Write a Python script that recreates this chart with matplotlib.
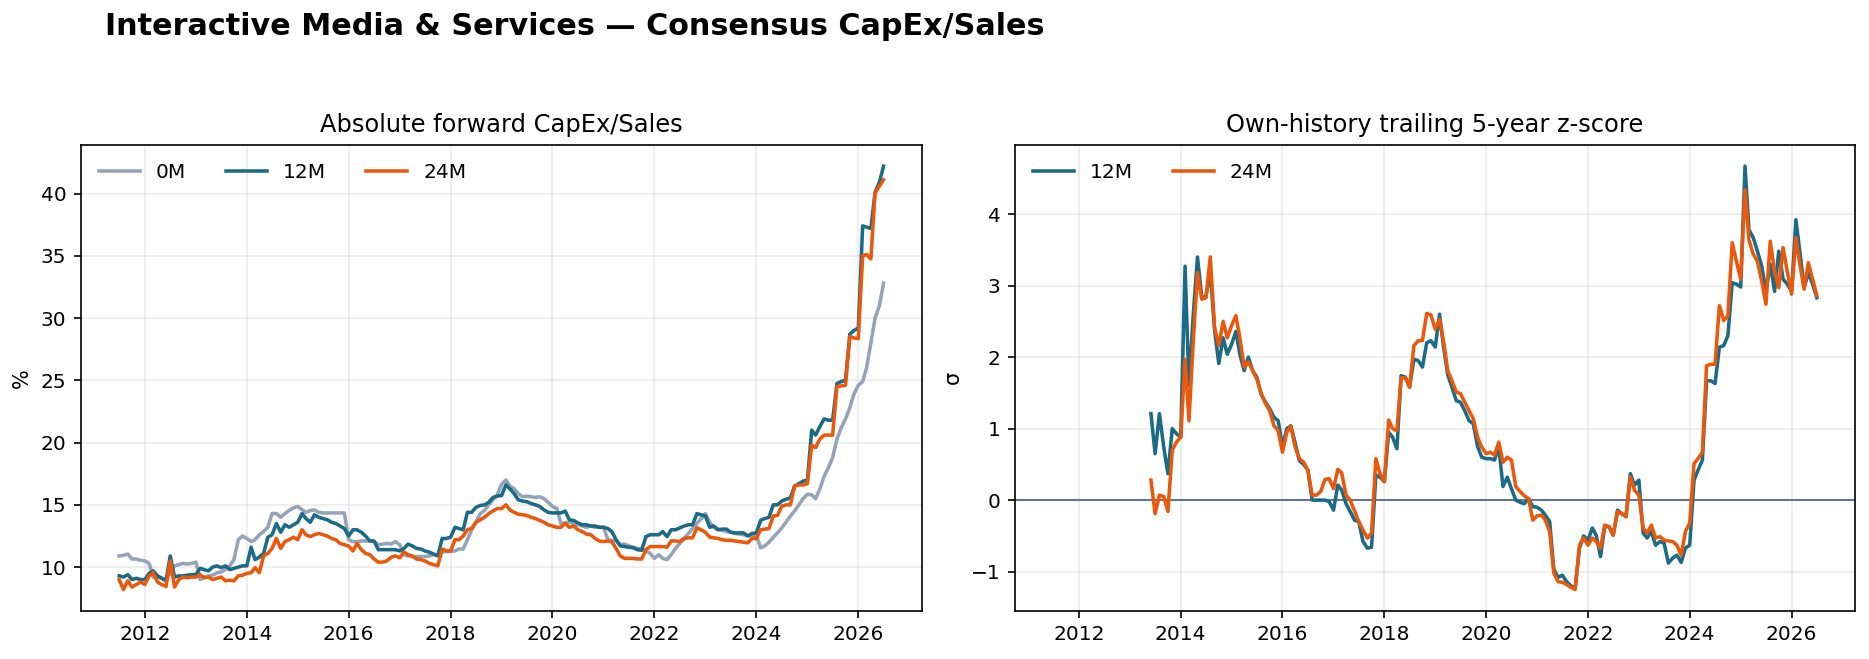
import matplotlib
matplotlib.use("Agg")
import matplotlib.pyplot as plt
import matplotlib.dates as mdates
import numpy as np
import pandas as pd

# monthly observations, Jul 2011 .. Jul 2026
dates = pd.date_range("2011-07-01", "2026-07-01", freq="MS")

# forward CapEx/Sales, %
capex_0m = [
    10.9, 10.95, 11.05, 10.65, 10.65, 10.55, 10.5, 10.3, 9.2, 9.2,
    9.1, 9.0, 9.5, 10.1, 10.2, 10.3, 10.25, 10.3, 10.4, 9.0,
    9.15, 9.3, 9.35, 9.55, 9.6, 9.8, 10.1, 10.6, 12.2, 12.5,
    12.3, 12.05, 12.2, 12.6, 12.85, 13.2, 14.3, 14.3, 14.0, 14.3,
    14.55, 14.76, 14.87, 14.6, 14.4, 14.55, 14.6, 14.4, 14.35, 14.35,
    14.35, 14.35, 14.35, 14.35, 12.2, 12.05, 12.05, 12.1, 12.1, 12.1,
    12.05, 11.8, 11.85, 11.9, 11.85, 12.05, 11.8, 11.0, 10.9, 10.85,
    10.85, 10.85, 10.85, 10.9, 11.0, 11.0, 11.2, 11.26, 11.26, 11.3,
    11.45, 11.45, 12.2, 13.0, 13.6, 14.3, 14.55, 15.0, 15.4, 15.8,
    16.65, 17.0, 16.5, 16.3, 15.9, 15.65, 15.7, 15.65, 15.6, 15.65,
    15.5, 15.2, 14.87, 14.7, 13.5, 13.55, 13.6, 13.5, 13.4, 13.3,
    13.2, 13.3, 13.2, 13.2, 13.2, 12.2, 12.15, 12.1, 11.8, 11.85,
    11.7, 11.6, 11.5, 11.45, 11.3, 11.1, 10.7, 11.0, 10.7, 10.6,
    11.0, 11.5, 11.9, 12.3, 12.7, 13.1, 13.5, 13.9, 14.3, 13.6,
    13.2, 13.05, 12.95, 12.85, 12.8, 12.7, 12.65, 12.6, 12.55, 12.5,
    12.55, 11.55, 11.7, 12.0, 12.4, 12.75, 13.15, 13.6, 14.1, 14.5,
    15.0, 15.5, 15.85, 15.8, 15.5, 16.3, 17.3, 18.0, 18.8, 20.3,
    21.2, 21.9, 22.8, 23.9, 24.6, 24.9, 26.0, 28.0, 30.0, 31.0, 32.8,
]
capex_12m = [
    9.3, 9.2, 9.4, 9.0, 9.1, 9.0, 9.0, 9.5, 9.7, 9.3,
    9.1, 8.9, 10.9, 9.2, 9.3, 9.3, 9.35, 9.4, 9.4, 9.9,
    9.8, 9.7, 10.0, 10.1, 9.95, 10.1, 9.8, 9.9, 10.0, 10.1,
    10.1, 11.6, 10.6, 10.8, 11.1, 12.4, 12.6, 13.5, 12.8, 13.4,
    13.2, 13.4, 13.6, 14.3, 13.9, 13.6, 14.2, 14.0, 13.9, 13.8,
    13.6, 13.5, 13.3, 13.1, 12.5, 13.0, 13.0, 12.8, 12.5, 12.1,
    12.1, 11.4, 11.4, 11.4, 11.4, 11.4, 11.3, 11.5, 11.85, 11.7,
    11.5, 11.45, 11.3, 11.2, 11.05, 10.9, 12.3, 12.3, 12.4, 13.2,
    13.1, 13.0, 14.4, 14.4, 14.8, 14.95, 15.0, 15.2, 15.6, 15.7,
    15.75, 16.6, 16.3, 15.9, 15.4, 15.3, 15.25, 15.1, 15.0, 14.87,
    14.6, 14.4, 14.35, 14.35, 14.35, 14.5, 13.8, 13.75, 13.55, 13.4,
    13.4, 13.3, 13.3, 13.2, 13.2, 13.1, 12.85, 12.2, 11.7, 11.65,
    11.6, 11.55, 11.4, 11.35, 12.45, 12.6, 12.6, 12.6, 12.85, 12.45,
    13.0, 13.0, 13.15, 13.3, 13.4, 13.4, 14.3, 14.2, 14.1, 13.2,
    13.3, 13.0, 13.05, 13.05, 12.8, 12.75, 12.75, 12.75, 12.5, 12.7,
    12.75, 13.76, 13.9, 14.0, 15.0, 15.0, 15.3, 15.45, 15.55, 16.5,
    16.7, 16.9, 17.0, 21.0, 20.6, 21.3, 21.9, 21.8, 21.8, 24.75,
    24.9, 25.0, 28.7, 29.0, 29.2, 37.4, 37.3, 37.2, 40.1, 40.9, 42.2,
]
capex_24m = [
    9.0, 8.2, 8.9, 8.4, 8.6, 8.8, 8.6, 9.3, 9.55, 8.8,
    8.6, 8.45, 10.5, 8.4, 9.0, 9.2, 9.15, 9.2, 9.2, 9.4,
    9.15, 9.2, 9.0, 9.1, 9.2, 8.9, 8.95, 8.9, 9.3, 9.35,
    9.5, 9.55, 9.95, 9.55, 10.9, 11.1, 11.5, 12.3, 11.5, 12.05,
    12.2, 12.4, 12.2, 13.0, 12.6, 12.45, 12.6, 12.7, 12.6, 12.5,
    12.3, 12.2, 11.9, 11.8, 11.7, 11.3, 11.9, 11.4, 11.1, 11.0,
    10.65, 10.4, 10.4, 10.5, 10.8, 10.9, 10.75, 11.2, 11.0, 10.9,
    10.65, 10.6, 10.5, 10.3, 10.2, 10.1, 11.45, 11.3, 11.3, 12.2,
    12.2, 12.5, 13.0, 13.1, 13.6, 13.8, 14.0, 14.3, 14.5, 14.7,
    14.7, 15.0, 14.6, 14.4, 14.25, 14.2, 14.15, 14.0, 13.9, 13.75,
    13.6, 13.4, 13.3, 13.2, 13.2, 13.5, 13.2, 13.3, 13.0, 12.85,
    12.65, 12.6, 12.3, 12.1, 12.05, 12.1, 12.05, 11.5, 10.9, 10.7,
    10.7, 10.7, 10.65, 10.65, 11.4, 11.65, 11.65, 11.65, 11.65, 11.6,
    12.1, 12.1, 12.05, 12.3, 12.35, 12.35, 13.15, 13.0, 12.8, 12.4,
    12.35, 12.3, 12.2, 12.15, 12.15, 12.1, 12.05, 12.0, 11.95, 12.3,
    12.3, 13.0, 13.05, 13.1, 14.1, 14.15, 14.9, 15.0, 15.0, 16.5,
    16.6, 16.6, 16.7, 19.8, 19.6, 20.3, 20.6, 20.6, 20.6, 24.5,
    24.55, 24.6, 28.5, 28.4, 28.35, 35.0, 35.1, 34.75, 40.0, 40.6, 41.1,
]

# trailing 5-year z-score, first value Jun 2013
z_start = 23
z_12m = [
    1.21, 0.65, 1.21, 0.74, 0.37, 1.0, 0.93,
    0.88, 3.27, 1.6, 2.6, 3.4, 2.83, 2.85, 3.2, 2.37, 1.91,
    2.27, 2.04, 2.18, 2.36, 2.04, 1.81, 2.0, 1.81, 1.72, 1.48,
    1.37, 1.28, 1.16, 1.11, 0.75, 1.0, 1.04, 0.8, 0.55, 0.5,
    0.42, 0.0, 0.0, 0.0, 0.0, -0.02, -0.14, 0.21, 0.14, -0.05,
    -0.16, -0.28, -0.3, -0.58, -0.67, -0.66, 0.35, 0.32, 0.26, 0.95,
    0.88, 0.72, 1.74, 1.72, 1.58, 1.97, 1.95, 1.86, 2.2, 2.23,
    2.14, 2.6, 2.15, 1.75, 1.58, 1.39, 1.37, 1.25, 1.11, 1.07,
    0.75, 0.6, 0.58, 0.58, 0.56, 0.75, 0.19, 0.32, 0.16, 0.0,
    -0.03, -0.05, 0.02, -0.09, -0.1, -0.14, -0.21, -0.3, -0.97, -1.08,
    -1.05, -1.14, -1.2, -1.23, -0.67, -0.5, -0.56, -0.39, -0.49, -0.79,
    -0.37, -0.37, -0.49, -0.14, -0.19, -0.23, 0.37, 0.21, 0.28, -0.46,
    -0.53, -0.44, -0.63, -0.58, -0.6, -0.88, -0.81, -0.77, -0.87, -0.67,
    -0.63, 0.28, 0.42, 0.56, 1.67, 1.67, 1.63, 2.14, 2.16, 2.3,
    3.04, 3.02, 2.98, 4.67, 3.78, 3.67, 3.48, 3.27, 2.92, 3.3,
    2.92, 3.48, 3.09, 3.02, 2.92, 3.92, 3.48, 2.97, 3.18, 3.02, 2.83,
]
z_24m = [
    0.28, -0.19, 0.07, 0.05, -0.16, 0.7, 0.81,
    0.88, 1.97, 1.11, 2.23, 3.18, 2.81, 2.83, 3.4, 2.41, 2.16,
    2.5, 2.27, 2.44, 2.58, 2.27, 1.86, 1.93, 1.81, 1.69, 1.49,
    1.35, 1.25, 1.04, 0.97, 0.67, 0.95, 1.03, 0.74, 0.58, 0.53,
    0.42, 0.07, 0.07, 0.12, 0.29, 0.3, 0.16, 0.43, 0.38, 0.07,
    0.0, -0.15, -0.3, -0.42, -0.53, -0.46, 0.58, 0.37, 0.26, 1.12,
    1.0, 0.97, 1.71, 1.71, 1.58, 2.16, 2.23, 2.23, 2.61, 2.59,
    2.39, 2.53, 2.23, 1.81, 1.67, 1.51, 1.49, 1.37, 1.25, 1.14,
    0.88, 0.74, 0.65, 0.67, 0.63, 0.81, 0.53, 0.6, 0.56, 0.19,
    0.12, 0.06, 0.02, -0.28, -0.22, -0.21, -0.28, -0.44, -1.02, -1.14,
    -1.15, -1.18, -1.22, -1.25, -0.63, -0.53, -0.63, -0.53, -0.58, -0.67,
    -0.35, -0.37, -0.49, -0.16, -0.19, -0.23, 0.32, 0.14, 0.07, -0.39,
    -0.46, -0.35, -0.53, -0.51, -0.56, -0.57, -0.58, -0.63, -0.77, -0.44,
    -0.32, 0.51, 0.58, 0.67, 1.88, 1.9, 1.9, 2.72, 2.51, 2.58,
    3.6, 3.34, 3.09, 4.34, 3.64, 3.44, 3.34, 3.06, 2.74, 3.62,
    3.2, 2.97, 3.53, 3.2, 2.88, 3.67, 3.3, 2.95, 3.32, 3.09, 2.86,
]

c0 = "#94a3b8"
c12 = "#1b6a86"
c24 = "#ea580c"

fig = plt.figure(figsize=(1869 / 150, 659 / 150), dpi=150)
ax1 = fig.add_axes([0.0433, 0.0733, 0.4499, 0.7067])
ax2 = fig.add_axes([0.5431, 0.0733, 0.4494, 0.7067], sharex=ax1)

ax1.plot(dates, capex_0m, color=c0, lw=1.7, label="0M")
ax1.plot(dates, capex_12m, color=c12, lw=1.7, label="12M")
ax1.plot(dates, capex_24m, color=c24, lw=1.7, label="24M")
ax1.set_title("Absolute forward CapEx/Sales", fontsize=11.6)
ax1.set_ylabel("%")
ax1.legend(loc="upper left", ncol=3, frameon=False, fontsize=9.7)

zd = dates[z_start:]
ax2.axhline(0, color="#64748b", lw=1.0)
ax2.plot(zd, z_12m, color=c12, lw=1.7, label="12M")
ax2.plot(zd, z_24m, color=c24, lw=1.7, label="24M")
ax2.set_title("Own-history trailing 5-year z-score", fontsize=11.6)
ax2.set_ylabel("σ")
ax2.legend(loc="upper left", ncol=2, frameon=False, fontsize=9.7)

for ax in (ax1, ax2):
    ax.grid(True, alpha=0.25)
    ax.tick_params(labelsize=9.7)
    ax.xaxis.set_major_locator(mdates.YearLocator(2))
    ax.xaxis.set_major_formatter(mdates.DateFormatter("%Y"))

fig.text(0.0562, 0.9605, "Interactive Media & Services — Consensus CapEx/Sales",
         fontsize=14.5, fontweight="bold", ha="left", va="center")

fig.savefig("out.png", dpi=150)
